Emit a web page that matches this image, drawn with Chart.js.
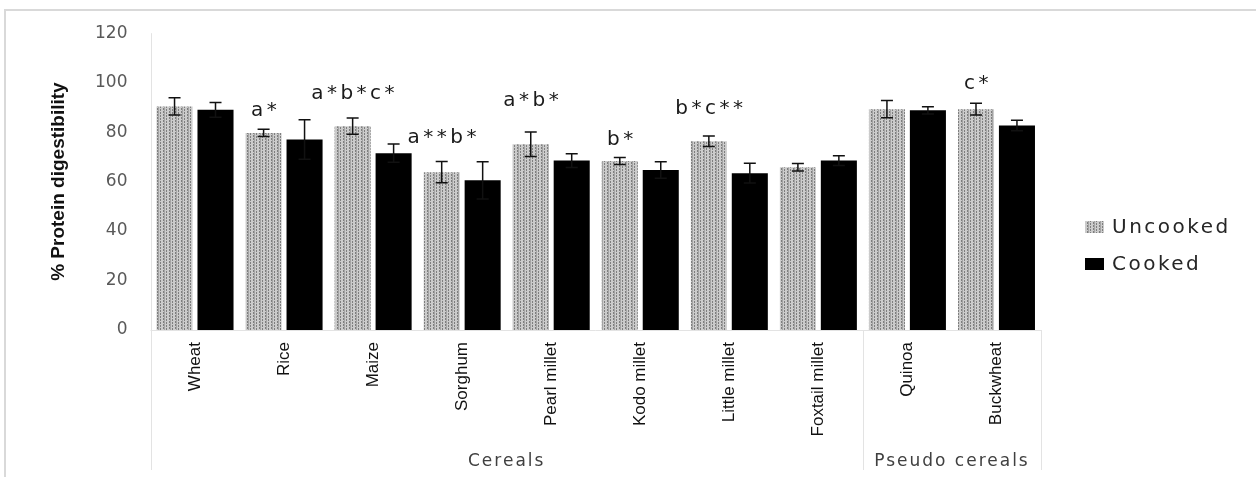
<!DOCTYPE html>
<html>
<head>
<meta charset="utf-8">
<script src="https://cdn.jsdelivr.net/npm/chart.js@4.4.0/dist/chart.umd.min.js"></script>
<style>
  html, body { margin: 0; padding: 0; background: #ffffff; }
  #wrap { width: 1256px; height: 477px; }
</style>
</head>
<body>
<div id="wrap"><canvas id="chart" width="1256" height="477"></canvas></div>
<script>
// Categories and series
const categories = ['Wheat', 'Rice', 'Maize', 'Sorghum', 'Pearl millet', 'Kodo millet', 'Little millet', 'Foxtail millet', 'Quinoa', 'Buckwheat'];
const uncooked = [90.4, 79.7, 82.4, 63.8, 75.1, 68.3, 76.3, 65.8, 89.3, 89.3];
const uncookedErr = [3.5, 1.5, 3.3, 4.3, 5.0, 1.4, 2.1, 1.5, 3.5, 2.4];
const cooked = [89.0, 77.0, 71.5, 60.5, 68.5, 64.7, 63.4, 68.5, 88.8, 82.7];
const cookedErr = [3.0, 8.0, 3.7, 7.5, 2.8, 3.3, 4.0, 2.0, 1.5, 2.1];

// Significance letters (placed over the uncooked bar)
const annotLabels = ['', 'a*', 'a*b*c*', 'a**b*', 'a*b*', 'b*', 'b*c**', '', '', 'c*'];
const annotValues = [null, 88.5, 95.3, 77.8, 92.5, 77.0, 89.3, null, null, 99.7];

// Category groups on the second axis level
const groupNames = ['Cereals', 'Pseudo cereals'];
const groupStart = [0, 8];
const groupEnd = [7, 9];

const yTicks = [0, 20, 40, 60, 80, 100, 120];

// Dotted grey fill used for the uncooked bars
function makePattern() {
  const pc = document.createElement('canvas');
  pc.width = 6;
  pc.height = 6;
  const p = pc.getContext('2d');
  p.fillStyle = '#cbcbcb';
  p.fillRect(0, 0, 6, 6);
  p.fillStyle = '#7e7e7e';
  for (let y = 0; y < 6; y += 3) {
    p.fillRect(1, y, 1, 2);
    p.fillRect(4, y + 1, 1, 2);
  }
  p.fillStyle = '#a4a4a4';
  p.fillRect(2, 0, 1, 6);
  return document.getElementById('chart').getContext('2d').createPattern(pc, 'repeat');
}
const greyPattern = makePattern();

const narrowFont = "'Liberation Sans Narrow', 'Liberation Sans', Arial, sans-serif";

// Frame, group dividers, group labels and legend
const decorPlugin = {
  id: 'decor',
  beforeDraw(chart) {
    const ctx = chart.ctx;
    ctx.save();
    ctx.strokeStyle = '#d9d9d9';
    ctx.lineWidth = 2;
    ctx.beginPath();
    ctx.moveTo(5, 490);
    ctx.lineTo(5, 10);
    ctx.lineTo(1300, 10);
    ctx.stroke();
    ctx.restore();
  },
  afterDraw(chart) {
    const ctx = chart.ctx;
    const xs = chart.scales.x;
    const area = chart.chartArea;
    const step = xs.width / categories.length;
    const edge = i => xs.getPixelForValue(i) - step / 2;
    const bottom = 470;

    ctx.save();
    ctx.strokeStyle = '#e3e3e3';
    ctx.lineWidth = 1;
    // axis line
    ctx.beginPath();
    ctx.moveTo(area.left, area.bottom + 0.5);
    ctx.lineTo(area.right, area.bottom + 0.5);
    ctx.stroke();
    // dividers
    ctx.beginPath();
    ctx.moveTo(Math.round(area.left) + 0.5, area.top);
    ctx.lineTo(Math.round(area.left) + 0.5, bottom);
    for (let g = 0; g < groupNames.length; g++) {
      const xr = Math.round(edge(groupEnd[g] + 1)) + 0.5;
      ctx.moveTo(xr, area.bottom);
      ctx.lineTo(xr, bottom);
    }
    ctx.stroke();

    // group labels
    ctx.fillStyle = '#404040';
    ctx.font = '17px "DejaVu Sans", sans-serif';
    ctx.letterSpacing = '2px';
    ctx.textAlign = 'center';
    ctx.textBaseline = 'middle';
    for (let g = 0; g < groupNames.length; g++) {
      const cx = (edge(groupStart[g]) + edge(groupEnd[g] + 1)) / 2;
      ctx.fillText(groupNames[g], cx, 462);
    }

    // legend
    const lx = area.right + 44;
    const items = chart.data.datasets;
    const ly = [227, 264];
    ctx.font = '20px "DejaVu Sans", sans-serif';
    ctx.letterSpacing = '2.5px';
    ctx.textAlign = 'left';
    for (let k = 0; k < items.length; k++) {
      ctx.fillStyle = items[k].backgroundColor;
      ctx.fillRect(lx, ly[k] - 6, 19, 12);
      ctx.fillStyle = '#262626';
      ctx.fillText(items[k].label, lx + 27, ly[k] + 1);
    }
    ctx.restore();
  }
};

// Error bars and significance letters
const errorPlugin = {
  id: 'errors',
  afterDatasetsDraw(chart) {
    const ctx = chart.ctx;
    const ys = chart.scales.y;
    const errs = [uncookedErr, cookedErr];
    const vals = [uncooked, cooked];
    ctx.save();
    ctx.strokeStyle = '#111111';
    ctx.lineWidth = 1.5;
    for (let d = 0; d < 2; d++) {
      const meta = chart.getDatasetMeta(d);
      meta.data.forEach((bar, i) => {
        const yt = ys.getPixelForValue(vals[d][i] + errs[d][i]);
        const yb = ys.getPixelForValue(vals[d][i] - errs[d][i]);
        ctx.beginPath();
        ctx.moveTo(bar.x, yt);
        ctx.lineTo(bar.x, yb);
        ctx.moveTo(bar.x - 6, yt);
        ctx.lineTo(bar.x + 6, yt);
        ctx.moveTo(bar.x - 6, yb);
        ctx.lineTo(bar.x + 6, yb);
        ctx.stroke();
      });
    }
    const meta0 = chart.getDatasetMeta(0);
    ctx.fillStyle = '#1a1a1a';
    ctx.font = '20px "DejaVu Sans", sans-serif';
    ctx.letterSpacing = '3.5px';
    ctx.textAlign = 'center';
    ctx.textBaseline = 'middle';
    annotLabels.forEach((t, i) => {
      if (!t) return;
      ctx.fillText(t, meta0.data[i].x + 2, ys.getPixelForValue(annotValues[i]));
    });
    ctx.restore();
  }
};

new Chart(document.getElementById('chart'), {
  type: 'bar',
  data: {
    labels: categories,
    datasets: [
      {
        label: 'Uncooked',
        data: uncooked,
        backgroundColor: greyPattern,
        borderWidth: 0,
        barPercentage: 0.88,
        categoryPercentage: 0.92
      },
      {
        label: 'Cooked',
        data: cooked,
        backgroundColor: '#000000',
        borderWidth: 0,
        barPercentage: 0.88,
        categoryPercentage: 0.92
      }
    ]
  },
  options: {
    responsive: false,
    animation: false,
    layout: { padding: { top: 29, right: 215, bottom: 0, left: 0 } },
    plugins: {
      legend: { display: false },
      tooltip: { enabled: false }
    },
    scales: {
      x: {
        grid: { display: false, drawTicks: false },
        border: { display: false },
        ticks: {
          autoSkip: false,
          minRotation: 90,
          maxRotation: 90,
          padding: 12,
          color: '#111111',
          font: { family: narrowFont, size: 17 }
        },
        afterFit(scale) { scale.height = 147; }
      },
      y: {
        min: 0,
        max: 120,
        afterBuildTicks(scale) { scale.ticks = yTicks.map(v => ({ value: v })); },
        grid: { display: false, drawTicks: false },
        border: { display: false },
        ticks: {
          padding: 23,
          color: '#595959',
          font: { family: '"DejaVu Sans", sans-serif', size: 17 }
        },
        title: {
          display: true,
          text: '% Protein digestibility',
          color: '#111111',
          font: { family: narrowFont, size: 19, weight: 'bold' },
          padding: { top: 47, bottom: 0 }
        },
        afterFit(scale) { scale.width = 150.5; }
      }
    }
  },
  plugins: [decorPlugin, errorPlugin]
});
</script>
</body>
</html>
